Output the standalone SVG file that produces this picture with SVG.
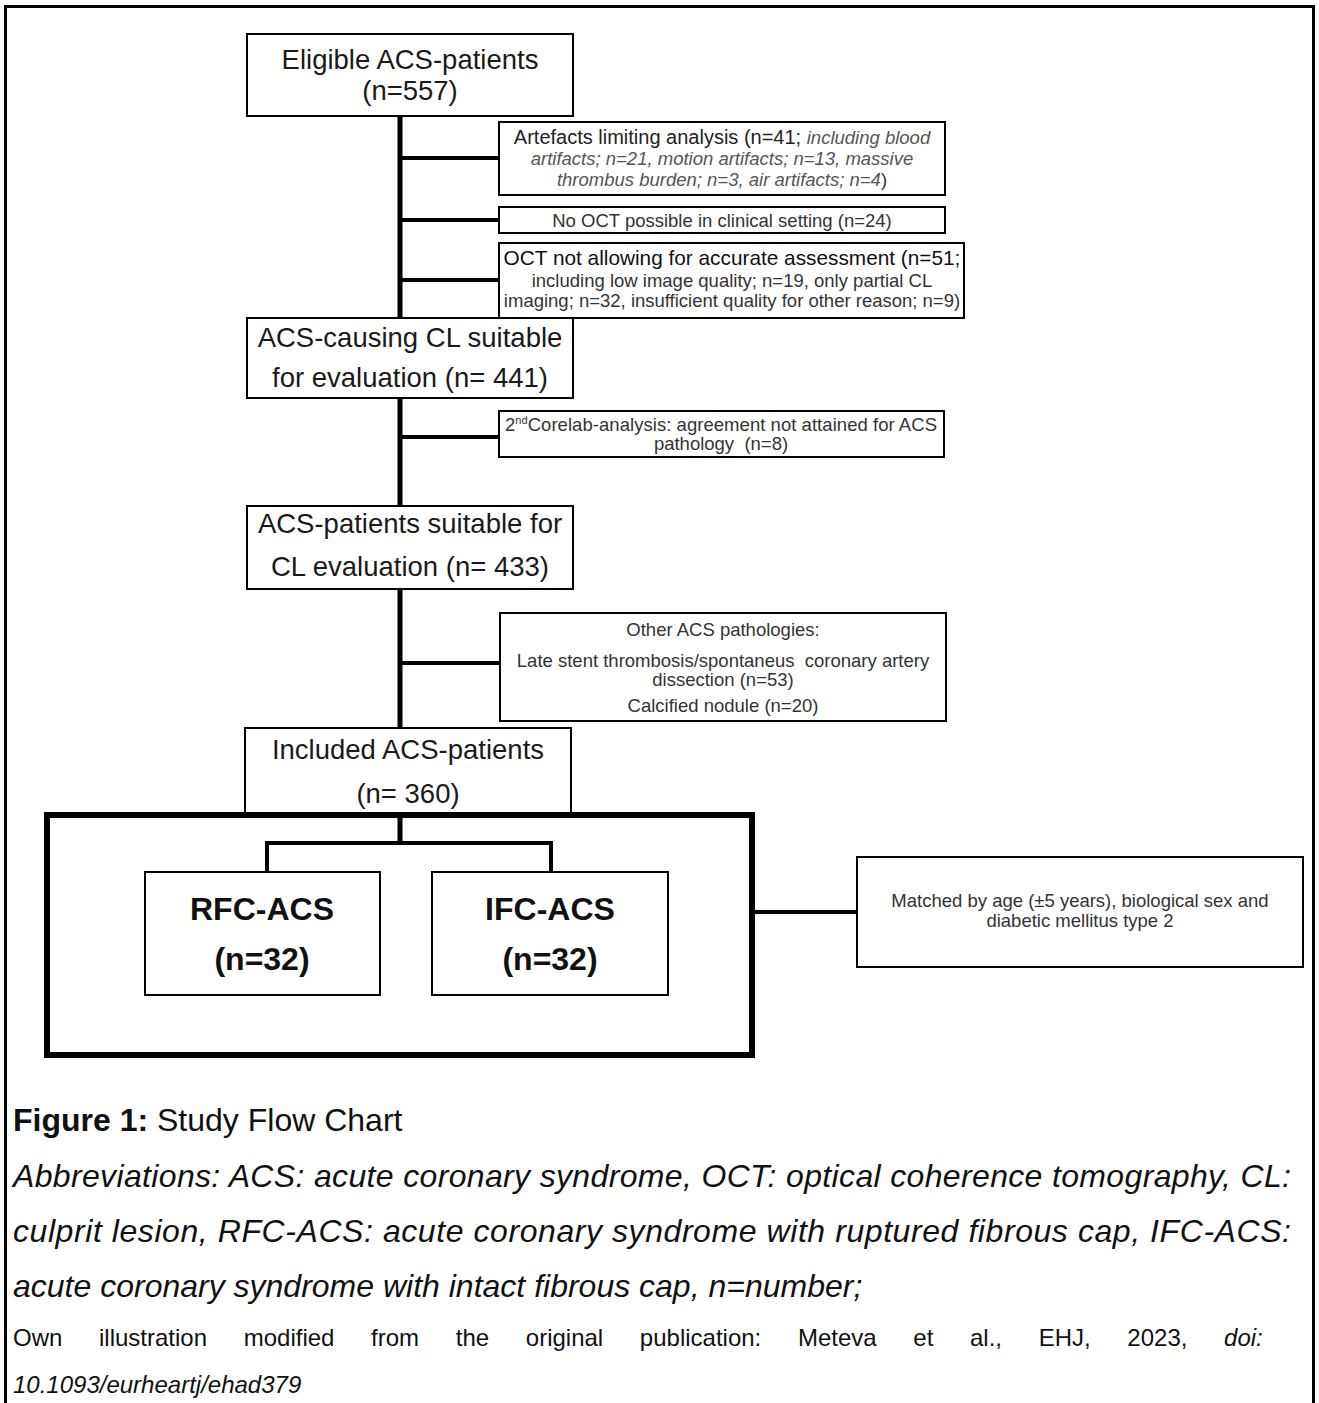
<svg xmlns="http://www.w3.org/2000/svg" width="1319" height="1403" viewBox="0 0 1319 1403">
<style>
.box{fill:#fff;stroke:#000;stroke-width:2}
.conn{stroke:#000;stroke-width:5;fill:none}
.br{stroke:#000;stroke-width:4;fill:none}
text{font-family:"Liberation Sans",Arial,sans-serif}
.main{font-size:27.5px;fill:#1a1a1a;text-anchor:middle}
.side{font-size:18.5px;fill:#333;text-anchor:middle}
.it{font-style:italic;fill:#555}
.big{font-size:32px;font-weight:bold;fill:#111;text-anchor:middle}
.cap{font-size:32px;fill:#111}
.cit{font-size:32px;font-style:italic;fill:#111}
.src{font-size:24px;fill:#111}
.pre{white-space:pre}
</style>
<rect width="1319" height="1403" fill="#fff"/>
<path d="M5.5,1410 V6.5 H1313.5 V1410" fill="none" stroke="#000" stroke-width="3"/>

<g id="connectors">
<path class="conn" d="M400,116 V318 M400,398 V506 M400,589 V728 M400,815 V843"/>
<path class="br" d="M400,158 H499 M400,220 H499 M400,280 H499 M400,437 H499 M400,663 H500"/>
<path class="br" d="M267,872 V843 H551 V872"/>
<path class="br" d="M752,912 H857"/>
</g>

<g id="n-eligible">
<rect class="box" x="247" y="34" width="326" height="82"/>
<text class="main" x="410" y="69">Eligible ACS-patients</text>
<text class="main" x="410" y="100">(n=557)</text>
</g>

<g id="n-artefacts">
<rect class="box" x="499" y="122" width="446" height="73"/>
<text class="side" x="722" y="144"><tspan font-size="20" fill="#222">Artefacts limiting analysis (n=41; </tspan><tspan class="it">including blood</tspan></text>
<text class="side it" x="722" y="165">artifacts; n=21, motion artifacts; n=13, massive</text>
<text class="side" x="722" y="186"><tspan class="it">thrombus burden; n=3, air artifacts; n=4</tspan>)</text>
</g>

<g id="n-nooct">
<rect class="box" x="499" y="207" width="446" height="26"/>
<text class="side" x="722" y="227">No OCT possible in clinical setting (n=24)</text>
</g>

<g id="n-octnot">
<rect class="box" x="499" y="243" width="465" height="75"/>
<text class="side" x="732" y="265" style="font-size:20.8px;fill:#111">OCT not allowing for accurate assessment (n=51;</text>
<text class="side" x="732" y="287">including low image quality; n=19, only partial CL</text>
<text class="side" x="732" y="307">imaging; n=32, insufficient quality for other reason; n=9)</text>
</g>

<g id="n-cl441">
<rect class="box" x="247" y="318" width="326" height="80"/>
<text class="main" x="410" y="347">ACS-causing CL suitable</text>
<text class="main" x="410" y="387">for evaluation (n= 441)</text>
</g>

<g id="n-corelab">
<rect class="box" x="499" y="411" width="445" height="46"/>
<text class="side" x="721" y="431" textLength="432" lengthAdjust="spacing">2<tspan font-size="11" dy="-7">nd</tspan><tspan dy="7">Corelab-analysis: agreement not attained for ACS</tspan></text>
<text class="side pre" x="721" y="450" xml:space="preserve">pathology  (n=8)</text>
</g>

<g id="n-cl433">
<rect class="box" x="247" y="506" width="326" height="83"/>
<text class="main" x="410" y="533">ACS-patients suitable for</text>
<text class="main" x="410" y="576">CL evaluation (n= 433)</text>
</g>

<g id="n-other">
<rect class="box" x="500" y="613" width="446" height="108"/>
<text class="side" x="723" y="636">Other ACS pathologies:</text>
<text class="side pre" x="723" y="667" xml:space="preserve">Late stent thrombosis/spontaneus  coronary artery</text>
<text class="side" x="723" y="686">dissection (n=53)</text>
<text class="side" x="723" y="712">Calcified nodule (n=20)</text>
</g>

<g id="n-included">
<rect class="box" x="245" y="728" width="326" height="87"/>
<text class="main" x="408" y="759">Included ACS-patients</text>
<text class="main" x="408" y="803">(n= 360)</text>
</g>

<g id="n-group">
<rect x="47" y="815" width="705" height="240" fill="none" stroke="#000" stroke-width="6"/>
</g>

<g id="n-rfc">
<rect class="box" x="145" y="872" width="235" height="123"/>
<text class="big" x="262" y="920">RFC-ACS</text>
<text class="big" x="262" y="970">(n=32)</text>
</g>

<g id="n-ifc">
<rect class="box" x="432" y="872" width="236" height="123"/>
<text class="big" x="550" y="920">IFC-ACS</text>
<text class="big" x="550" y="970">(n=32)</text>
</g>

<g id="n-matched">
<rect class="box" x="857" y="857" width="446" height="110"/>
<text class="side" x="1080" y="907">Matched by age (±5 years), biological sex and</text>
<text class="side" x="1080" y="927">diabetic mellitus type 2</text>
</g>

<g id="caption">
<text class="cap" x="13" y="1131"><tspan font-weight="bold">Figure 1:</tspan> Study Flow Chart</text>
<text class="cit" x="13" y="1187" textLength="1278" lengthAdjust="spacing">Abbreviations: ACS: acute coronary syndrome, OCT: optical coherence tomography, CL:</text>
<text class="cit" x="13" y="1242" textLength="1278" lengthAdjust="spacing">culprit lesion, RFC-ACS: acute coronary syndrome with ruptured fibrous cap, IFC-ACS:</text>
<text class="cit" x="13" y="1297">acute coronary syndrome with intact fibrous cap, n=number;</text>
<text class="src" x="13" y="1346" word-spacing="30">Own illustration modified from the original publication: Meteva et al., EHJ, 2023, <tspan font-style="italic">doi:</tspan></text>
<text class="src" x="13" y="1393" font-style="italic">10.1093/eurheartj/ehad379</text>
</g>
</svg>
